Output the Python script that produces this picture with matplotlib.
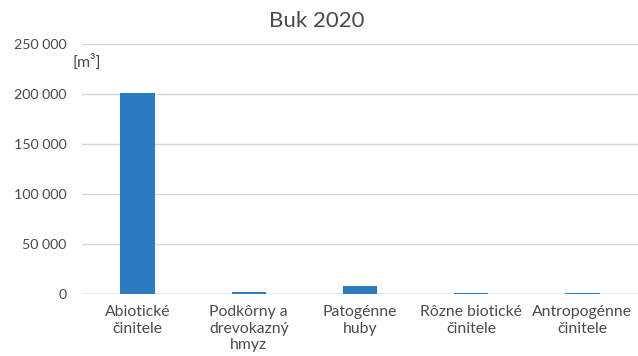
import matplotlib
matplotlib.use('Agg')
import matplotlib.pyplot as plt
from matplotlib.ticker import FuncFormatter

kategorie = ['Abiotické\nčinitele', 'Podkôrny a\ndrevokazný\nhmyz', 'Patogénne\nhuby',
             'Rôzne biotické\nčinitele', 'Antropogénne\nčinitele']
objem = [201500, 2500, 8000, 1300, 900]
y_ticks = [0, 50000, 100000, 150000, 200000, 250000]

plt.rcParams['font.family'] = ['Lato', 'DejaVu Sans']

fig = plt.figure(figsize=(6.38, 3.56), dpi=100)
ax = fig.add_axes([0.1285, 0.174, 0.8715, 0.702])

x = range(len(kategorie))
ax.bar(x, objem, width=0.31, color='#2b7bc0', zorder=3)
ax.set_xlim(-0.5, len(kategorie) - 0.5)
ax.set_ylim(0, 250000)
ax.set_yticks(y_ticks)
ax.yaxis.set_major_formatter(FuncFormatter(lambda v, p: f'{int(v):,}'.replace(',', ' ')))
ax.set_xticks(list(x))
ax.set_xticklabels(kategorie, fontsize=11.3, color='#4a4a4a', linespacing=1.22, va='top')

ax.grid(axis='y', color='#d6d6d6', linewidth=1, zorder=0)
for s in ax.spines.values():
    s.set_visible(False)
ax.axhline(0, color='#c8c8c8', linewidth=1, zorder=2)
ax.tick_params(axis='y', length=0, labelsize=10.3, colors='#4a4a4a', pad=11)
ax.tick_params(axis='x', length=0, colors='#4a4a4a', pad=8)

fig.text(0.496, 0.942, 'Buk 2020', ha='center', va='center', fontsize=16, color='#4a4a4a')
fig.text(0.113, 0.825, '[m³]', ha='left', va='center', fontsize=11.5, color='#4a4a4a')

fig.savefig('out.png', dpi=100, facecolor='white')
